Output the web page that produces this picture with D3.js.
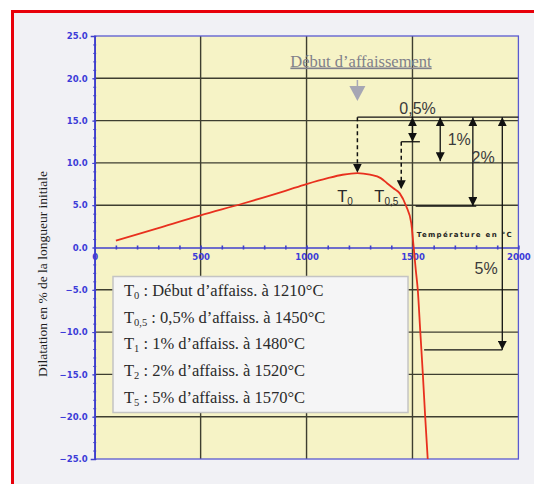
<!DOCTYPE html>
<html>
<head>
<meta charset="utf-8">
<script src="https://cdn.jsdelivr.net/npm/d3@7"></script>
<style>
  body { margin: 0; background: #fff; }
  svg { display: block; }
</style>
</head>
<body>
<div id="chart"></div>
<script>
// dilatation curve
const temps = [100, 300, 500, 700, 900, 1000, 1100, 1170, 1240, 1300, 1350, 1380, 1410, 1440, 1470, 1494, 1505, 1515, 1525, 1537, 1549, 1560, 1572];
const dilat = [0.8, 2.3, 3.8, 5.2, 6.7, 7.5, 8.2, 8.6, 8.8, 8.6, 8.2, 7.6, 7.0, 6.4, 4.9, 2.9, 0.2, -2.5, -5.0, -10.0, -15.0, -20.0, -25.0];

const xTicks = [0, 500, 1000, 1500, 2000];
const yTicks = [-25, -20, -15, -10, -5, 0, 5, 10, 15, 20, 25];

// legend
const legendSub = ["0", "0,5", "1", "2", "5"];
const legendText = ["  : Début d’affaiss. à 1210°C", " : 0,5% d’affaiss. à 1450°C", "  : 1% d’affaiss. à 1480°C", "  : 2% d’affaiss. à 1520°C", "  : 5% d’affaiss. à 1570°C"];

// slump annotations (temperature, level reached)
const startLevel = 15.4;
const slumpLabels = ["0,5%", "1%", "2%", "5%"];
const slumpX = [1500, 1631, 1785, 1924];
const slumpY = [12.5, 10.2, 4.9, -12.1];

const width = 534, height = 484;
const x = d3.scaleLinear().domain([0, 2000]).range([94.7, 518.4]);
const y = d3.scaleLinear().domain([-25, 25]).range([459, 36]);

const svg = d3.select("#chart").append("svg")
    .attr("width", width)
    .attr("height", height);

const defs = svg.append("defs");
defs.append("marker")
    .attr("id", "arrow")
    .attr("viewBox", "0 0 10 10")
    .attr("refX", 10).attr("refY", 5)
    .attr("markerUnits", "userSpaceOnUse")
    .attr("markerWidth", 9).attr("markerHeight", 9)
    .attr("orient", "auto-start-reverse")
    .append("path").attr("d", "M0,0L10,5L0,10z").attr("fill", "#111");

// frame
svg.append("rect").attr("x", 12).attr("y", 11).attr("width", width - 12).attr("height", height - 11)
    .attr("fill", "#f1f1f5");
svg.append("line").attr("x1", 11).attr("x2", width).attr("y1", 11.5).attr("y2", 11.5)
    .attr("stroke", "#e8000a").attr("stroke-width", 3);
svg.append("line").attr("x1", 12.5).attr("x2", 12.5).attr("y1", 10).attr("y2", height)
    .attr("stroke", "#e8000a").attr("stroke-width", 3);

// plot area
svg.append("rect")
    .attr("x", x(0)).attr("y", y(25))
    .attr("width", x(2000) - x(0)).attr("height", y(-25) - y(25))
    .attr("fill", "#f6f3c6");

// grid
svg.append("g").selectAll("line")
    .data(yTicks.filter(d => d !== 0 && Math.abs(d) !== 25))
    .join("line")
    .attr("x1", x(0)).attr("x2", x(2000))
    .attr("y1", d => y(d)).attr("y2", d => y(d))
    .attr("stroke", "#3e3e30").attr("stroke-width", 1.4);
svg.append("g").selectAll("line")
    .data(xTicks.filter(d => d !== 0 && d !== 2000))
    .join("line")
    .attr("y1", y(25)).attr("y2", y(-25))
    .attr("x1", d => x(d)).attr("x2", d => x(d))
    .attr("stroke", "#3e3e30").attr("stroke-width", 1.4);

// blue border
svg.append("rect")
    .attr("x", x(0)).attr("y", y(25))
    .attr("width", x(2000) - x(0)).attr("height", y(-25) - y(25))
    .attr("fill", "none").attr("stroke", "#5a5ad0").attr("stroke-width", 1.3);

// y axis
const yAxis = svg.append("g")
    .attr("transform", "translate(" + x(0) + ",0)")
    .call(d3.axisLeft(y).tickValues(yTicks).tickSize(4).tickFormat(d3.format(".1f")));
yAxis.append("g")
    .call(d3.axisLeft(y).ticks(50).tickSize(3).tickFormat(""))
    .select(".domain").remove();
yAxis.selectAll(".domain").attr("stroke", "#4040cc").attr("stroke-width", 1.6);
yAxis.selectAll(".tick line").attr("stroke", "#4040cc").attr("transform", "translate(1.5,0)");
yAxis.selectAll("text")
    .attr("fill", "#3c3cd8")
    .attr("font-family", "DejaVu Sans")
    .attr("font-weight", "bold")
    .attr("font-size", 8.5)
    .attr("x", -7);

// x axis at zero
const xAxis = svg.append("g")
    .attr("transform", "translate(0," + y(0) + ")")
    .call(d3.axisBottom(x).tickValues(xTicks).tickSize(0).tickPadding(6).tickFormat(d3.format("d")));
xAxis.append("g")
    .call(d3.axisBottom(x).ticks(20).tickSize(4).tickFormat(""))
    .select(".domain").remove();
xAxis.selectAll(".domain").attr("stroke", "#4040cc").attr("stroke-width", 1.6);
xAxis.selectAll(".tick line").attr("stroke", "#4040cc").attr("stroke-width", 1.6).attr("transform", "translate(0,-2)");
xAxis.selectAll("text")
    .attr("fill", "#3c3cd8")
    .attr("font-family", "DejaVu Sans")
    .attr("font-weight", "bold")
    .attr("font-size", 8.5);

// y axis title
svg.append("text")
    .attr("transform", "translate(47,274) rotate(-90)")
    .attr("text-anchor", "middle")
    .attr("font-family", "Liberation Serif")
    .attr("font-size", 13.5)
    .attr("fill", "#1e1e1e")
    .text("Dilatation en % de la longueur initiale");

// x axis title
svg.append("text")
    .attr("x", x(1520)).attr("y", y(1.3))
    .attr("font-family", "DejaVu Sans")
    .attr("font-weight", "bold")
    .attr("font-size", 7)
    .attr("textLength", 95).attr("lengthAdjust", "spacing")
    .attr("fill", "#222")
    .text("Température en °C");

// curve
const pts = temps.map((t, i) => [t, dilat[i]]);
svg.append("path")
    .datum(pts)
    .attr("fill", "none")
    .attr("stroke", "#e8301e")
    .attr("stroke-width", 1.8)
    .attr("d", d3.line().x(d => x(d[0])).y(d => y(d[1])).curve(d3.curveMonotoneX));

// "Début d'affaissement" heading + grey arrow
svg.append("text")
    .attr("x", 361).attr("y", 66.5)
    .attr("text-anchor", "middle")
    .attr("font-family", "Liberation Serif")
    .attr("font-size", 16.5)
    .attr("fill", "#80808a")
    .attr("text-decoration", "underline")
    .text("Début d’affaissement");
svg.append("line").attr("x1", x(1240)).attr("x2", x(1240)).attr("y1", 80).attr("y2", 87)
    .attr("stroke", "#a6a6b4").attr("stroke-width", 1.5);
svg.append("path")
    .attr("d", "M" + (x(1240) - 8) + ",86L" + (x(1240) + 8) + ",86L" + x(1240) + ",101z")
    .attr("fill", "#a6a6b4");

const ann = svg.append("g").attr("stroke", "#111").attr("stroke-width", 1.3).attr("fill", "none");

// top reference line
ann.append("line")
    .attr("x1", x(1240)).attr("x2", x(2000))
    .attr("y1", y(startLevel)).attr("y2", y(startLevel));

// T0 dashed arrow
ann.append("line")
    .attr("x1", x(1240)).attr("x2", x(1240))
    .attr("y1", y(startLevel)).attr("y2", y(8.85))
    .attr("stroke-dasharray", "4,3").attr("stroke-width", 1.5)
    .attr("marker-end", "url(#arrow)");

// T0.5 dashed arrow from the 0.5% level
ann.append("line")
    .attr("x1", x(1447)).attr("x2", x(1535))
    .attr("y1", y(slumpY[0])).attr("y2", y(slumpY[0]));
ann.append("line")
    .attr("x1", x(1447)).attr("x2", x(1447))
    .attr("y1", y(slumpY[0])).attr("y2", y(6.9))
    .attr("stroke-dasharray", "4,3").attr("stroke-width", 1.5)
    .attr("marker-end", "url(#arrow)");

// slump double arrows
slumpX.forEach((sx, i) => {
    ann.append("line")
        .attr("x1", x(sx)).attr("x2", x(sx))
        .attr("y1", y(startLevel)).attr("y2", y(slumpY[i]))
        .attr("marker-start", "url(#arrow)")
        .attr("marker-end", "url(#arrow)");
});
// level lines for 2% and 5%
ann.append("line")
    .attr("x1", x(1515)).attr("x2", x(1801))
    .attr("y1", y(slumpY[2])).attr("y2", y(slumpY[2]));
ann.append("line")
    .attr("x1", x(1555)).attr("x2", x(1924))
    .attr("y1", y(slumpY[3])).attr("y2", y(slumpY[3]));

// slump labels
const labelX = [1524, 1666, 1779, 1793];
const labelY = [15.8, 12.1, 10.0, -3.1];
svg.append("g").selectAll("text")
    .data(slumpLabels)
    .join("text")
    .attr("x", (d, i) => x(labelX[i]))
    .attr("y", (d, i) => y(labelY[i]))
    .attr("text-anchor", (d, i) => i === 0 ? "middle" : "start")
    .attr("font-family", "Liberation Sans")
    .attr("font-size", 16)
    .attr("fill", "#3a3a3a")
    .text(d => d);

// T labels on the curve
const tLab = svg.append("g")
    .attr("font-family", "Liberation Sans")
    .attr("fill", "#2a2a2a");
[["0", 1145], ["0,5", 1320]].forEach(([s, t]) => {
    const tx = tLab.append("text")
        .attr("x", x(t)).attr("y", y(5.4))
        .attr("font-size", 16.5);
    tx.append("tspan").text("T");
    tx.append("tspan").attr("font-size", 10).attr("dy", 3).text(s);
});

// legend box
svg.append("rect")
    .attr("x", 113).attr("y", 276.5)
    .attr("width", 295).attr("height", 136)
    .attr("fill", "#f5f5f6")
    .attr("stroke", "#c4c4c4").attr("stroke-width", 1.5);

const leg = svg.append("g")
    .attr("font-family", "Liberation Serif")
    .attr("font-size", 16.5)
    .attr("fill", "#2a2a2a")
    .style("white-space", "pre");
legendSub.forEach((s, i) => {
    const t = leg.append("text")
        .attr("x", 124).attr("y", 296 + i * 26.7);
    t.append("tspan").text("T");
    t.append("tspan").attr("font-size", 10.5).attr("dy", 3).text(s);
    t.append("tspan").attr("dy", -3).text(legendText[i]);
});
</script>
</body>
</html>
